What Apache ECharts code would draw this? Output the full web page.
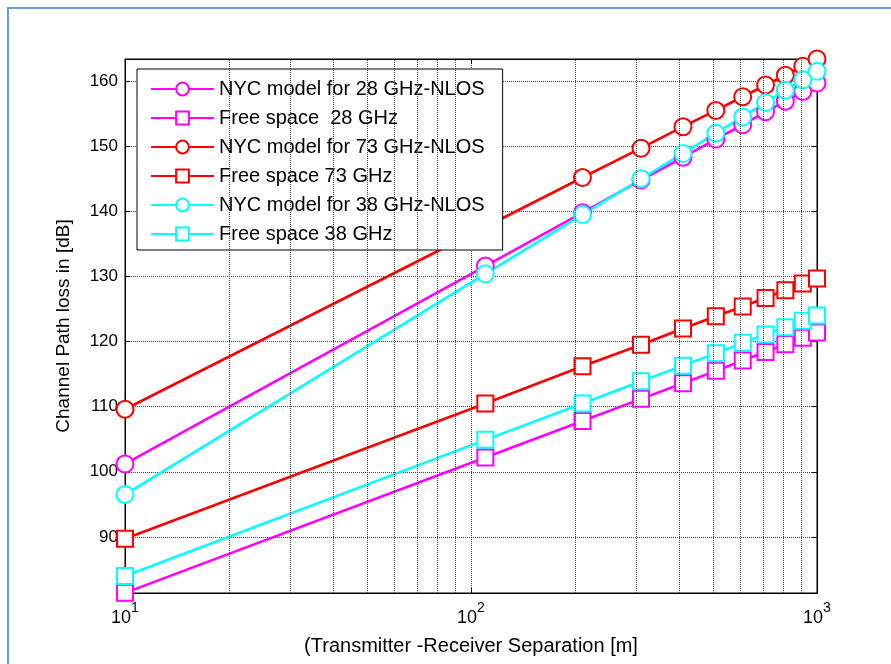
<!DOCTYPE html>
<html>
<head>
<meta charset="utf-8">
<script src="https://cdn.jsdelivr.net/npm/echarts@6/dist/echarts.min.js"></script>
<style>
html,body{margin:0;padding:0;background:#fff;}
#frame{position:absolute;left:7px;top:7px;width:900px;height:680px;border-left:2px solid #6a9fd8;border-top:2px solid #6a9fd8;box-sizing:border-box;}
#chart{position:absolute;left:0;top:0;width:891px;height:664px;}
</style>
</head>
<body>
<div id="frame"></div>
<div id="chart"></div>
<script>
// Transmitter-receiver separation [m]
const distances = [10, 110, 210, 310, 410, 510, 610, 710, 810, 910, 1000];
// Path loss [dB]
const nyc28 = [101.2, 131.6, 139.8, 144.8, 148.3, 151.1, 153.3, 155.3, 156.9, 158.4, 159.7];
const free28 = [81.4, 102.2, 107.8, 111.2, 113.6, 115.5, 117.1, 118.4, 119.6, 120.6, 121.4];
const nyc73 = [109.6, 137.6, 145.2, 149.7, 153.0, 155.5, 157.6, 159.4, 160.9, 162.3, 163.4];
const free73 = [89.7, 110.5, 116.2, 119.5, 122.0, 123.9, 125.4, 126.7, 127.9, 128.9, 129.7];
const nyc38 = [96.5, 130.4, 139.5, 145.0, 148.9, 152.0, 154.5, 156.7, 158.6, 160.2, 161.5];
const free38 = [84.0, 104.9, 110.5, 113.9, 116.3, 118.2, 119.8, 121.1, 122.2, 123.2, 124.0];
const seriesNames = ['NYC model for 28 GHz-NLOS', 'Free space  28 GHz', 'NYC model for 73 GHz-NLOS', 'Free space 73 GHz', 'NYC model for 38 GHz-NLOS', 'Free space 38 GHz'];
const minorGridX = [20, 30, 40, 50, 60, 70, 80, 90, 200, 300, 400, 500, 600, 700, 800, 900];

const FONT = 'Liberation Sans, Arial, sans-serif';
const magenta = '#ff00ff', red = '#ff0000', cyan = '#00ffff';
const yMin = 81.38, yMax = 163.4;

function pair(ys) { return distances.map((d, i) => [d, ys[i]]); }
function mk(name, ys, color, sym) {
  return {
    name: name, type: 'line', data: pair(ys),
    symbol: sym, symbolSize: sym === 'emptyCircle' ? 17 : 16,
    showSymbol: true,
    lineStyle: { color: color, width: 2.6 },
    itemStyle: { color: color, borderColor: color, borderWidth: 2.6 },
    emphasis: { disabled: true },
    animation: false
  };
}

const chart = echarts.init(document.getElementById('chart'));
const grid = { left: 125, right: 74, top: 59, bottom: 71, show: true, borderColor: '#000', borderWidth: 1, backgroundColor: 'transparent' };
const xBase = {
  type: 'log', logBase: 10, min: 10, max: 1000,
  axisLine: { show: true, lineStyle: { color: '#000', width: 1 } },
  axisTick: { show: true, inside: true, length: 5, lineStyle: { color: '#000' } },
  minorTick: { show: false }
};
const yBase = {
  type: 'value', min: yMin, max: yMax, minInterval: 10, maxInterval: 10,
  axisLine: { show: true, lineStyle: { color: '#000', width: 1 } },
  axisTick: { show: true, inside: true, length: 5, lineStyle: { color: '#000' } }
};

chart.setOption({
  animation: false,
  backgroundColor: 'transparent',
  grid: grid,
  textStyle: { fontFamily: FONT },
  xAxis: [
    Object.assign({}, xBase, {
      position: 'bottom',
      name: '(Transmitter -Receiver Separation [m]',
      nameLocation: 'middle', nameGap: 43,
      nameTextStyle: { fontFamily: FONT, fontSize: 20, color: '#000' },
      axisLabel: {
        margin: 8,
        color: '#000',
        formatter: function (v) {
          const e = Math.round(Math.log10(v));
          return '{b|10}{s|' + e + '}';
        },
        rich: {
          b: { fontFamily: FONT, fontSize: 18, color: '#000', lineHeight: 26, verticalAlign: 'bottom' },
          s: { fontFamily: FONT, fontSize: 14, color: '#000', lineHeight: 26, verticalAlign: 'top' }
        }
      },
      splitLine: { show: true, lineStyle: { type: 'dotted', color: '#444', width: 1 } }
    }),
    Object.assign({}, xBase, {
      position: 'top', axisLabel: { show: false }, splitLine: { show: false }
    })
  ],
  yAxis: [
    Object.assign({}, yBase, {
      position: 'left',
      name: 'Channel Path loss in [dB]',
      nameLocation: 'middle', nameGap: 52,
      nameTextStyle: { fontFamily: FONT, fontSize: 19, color: '#000' },
      axisLabel: {
        margin: 7, color: '#000', fontFamily: FONT, fontSize: 17,
        formatter: function (v) { return Math.abs(v % 10) < 1e-6 ? String(Math.round(v)) : ''; }
      },
      splitLine: { show: true, lineStyle: { type: 'dotted', color: '#444', width: 1 } }
    }),
    Object.assign({}, yBase, {
      position: 'right', axisLabel: { show: false }, splitLine: { show: false }
    })
  ],
  legend: {
    data: seriesNames,
    orient: 'vertical',
    left: 137, top: 69,
    padding: [10, 18, 6, 13],
    itemWidth: 63, itemHeight: 16, itemGap: 9,
    backgroundColor: '#fff',
    borderColor: '#000', borderWidth: 1, borderRadius: 0,
    selectedMode: false,
    textStyle: { fontFamily: FONT, fontSize: 20, color: '#000' }
  },
  series: [
    {
      name: 'minor-grid', type: 'line', data: [], silent: true,
      markLine: {
        silent: true, symbol: 'none', label: { show: false },
        lineStyle: { type: 'dotted', color: '#444', width: 1 },
        animation: false,
        data: minorGridX.map(v => ({ xAxis: v }))
      }
    },
    mk(seriesNames[0], nyc28, magenta, 'emptyCircle'),
    mk(seriesNames[1], free28, magenta, 'emptyRect'),
    mk(seriesNames[2], nyc73, red, 'emptyCircle'),
    mk(seriesNames[3], free73, red, 'emptyRect'),
    mk(seriesNames[4], nyc38, cyan, 'emptyCircle'),
    mk(seriesNames[5], free38, cyan, 'emptyRect')
  ]
});
</script>
</body>
</html>
